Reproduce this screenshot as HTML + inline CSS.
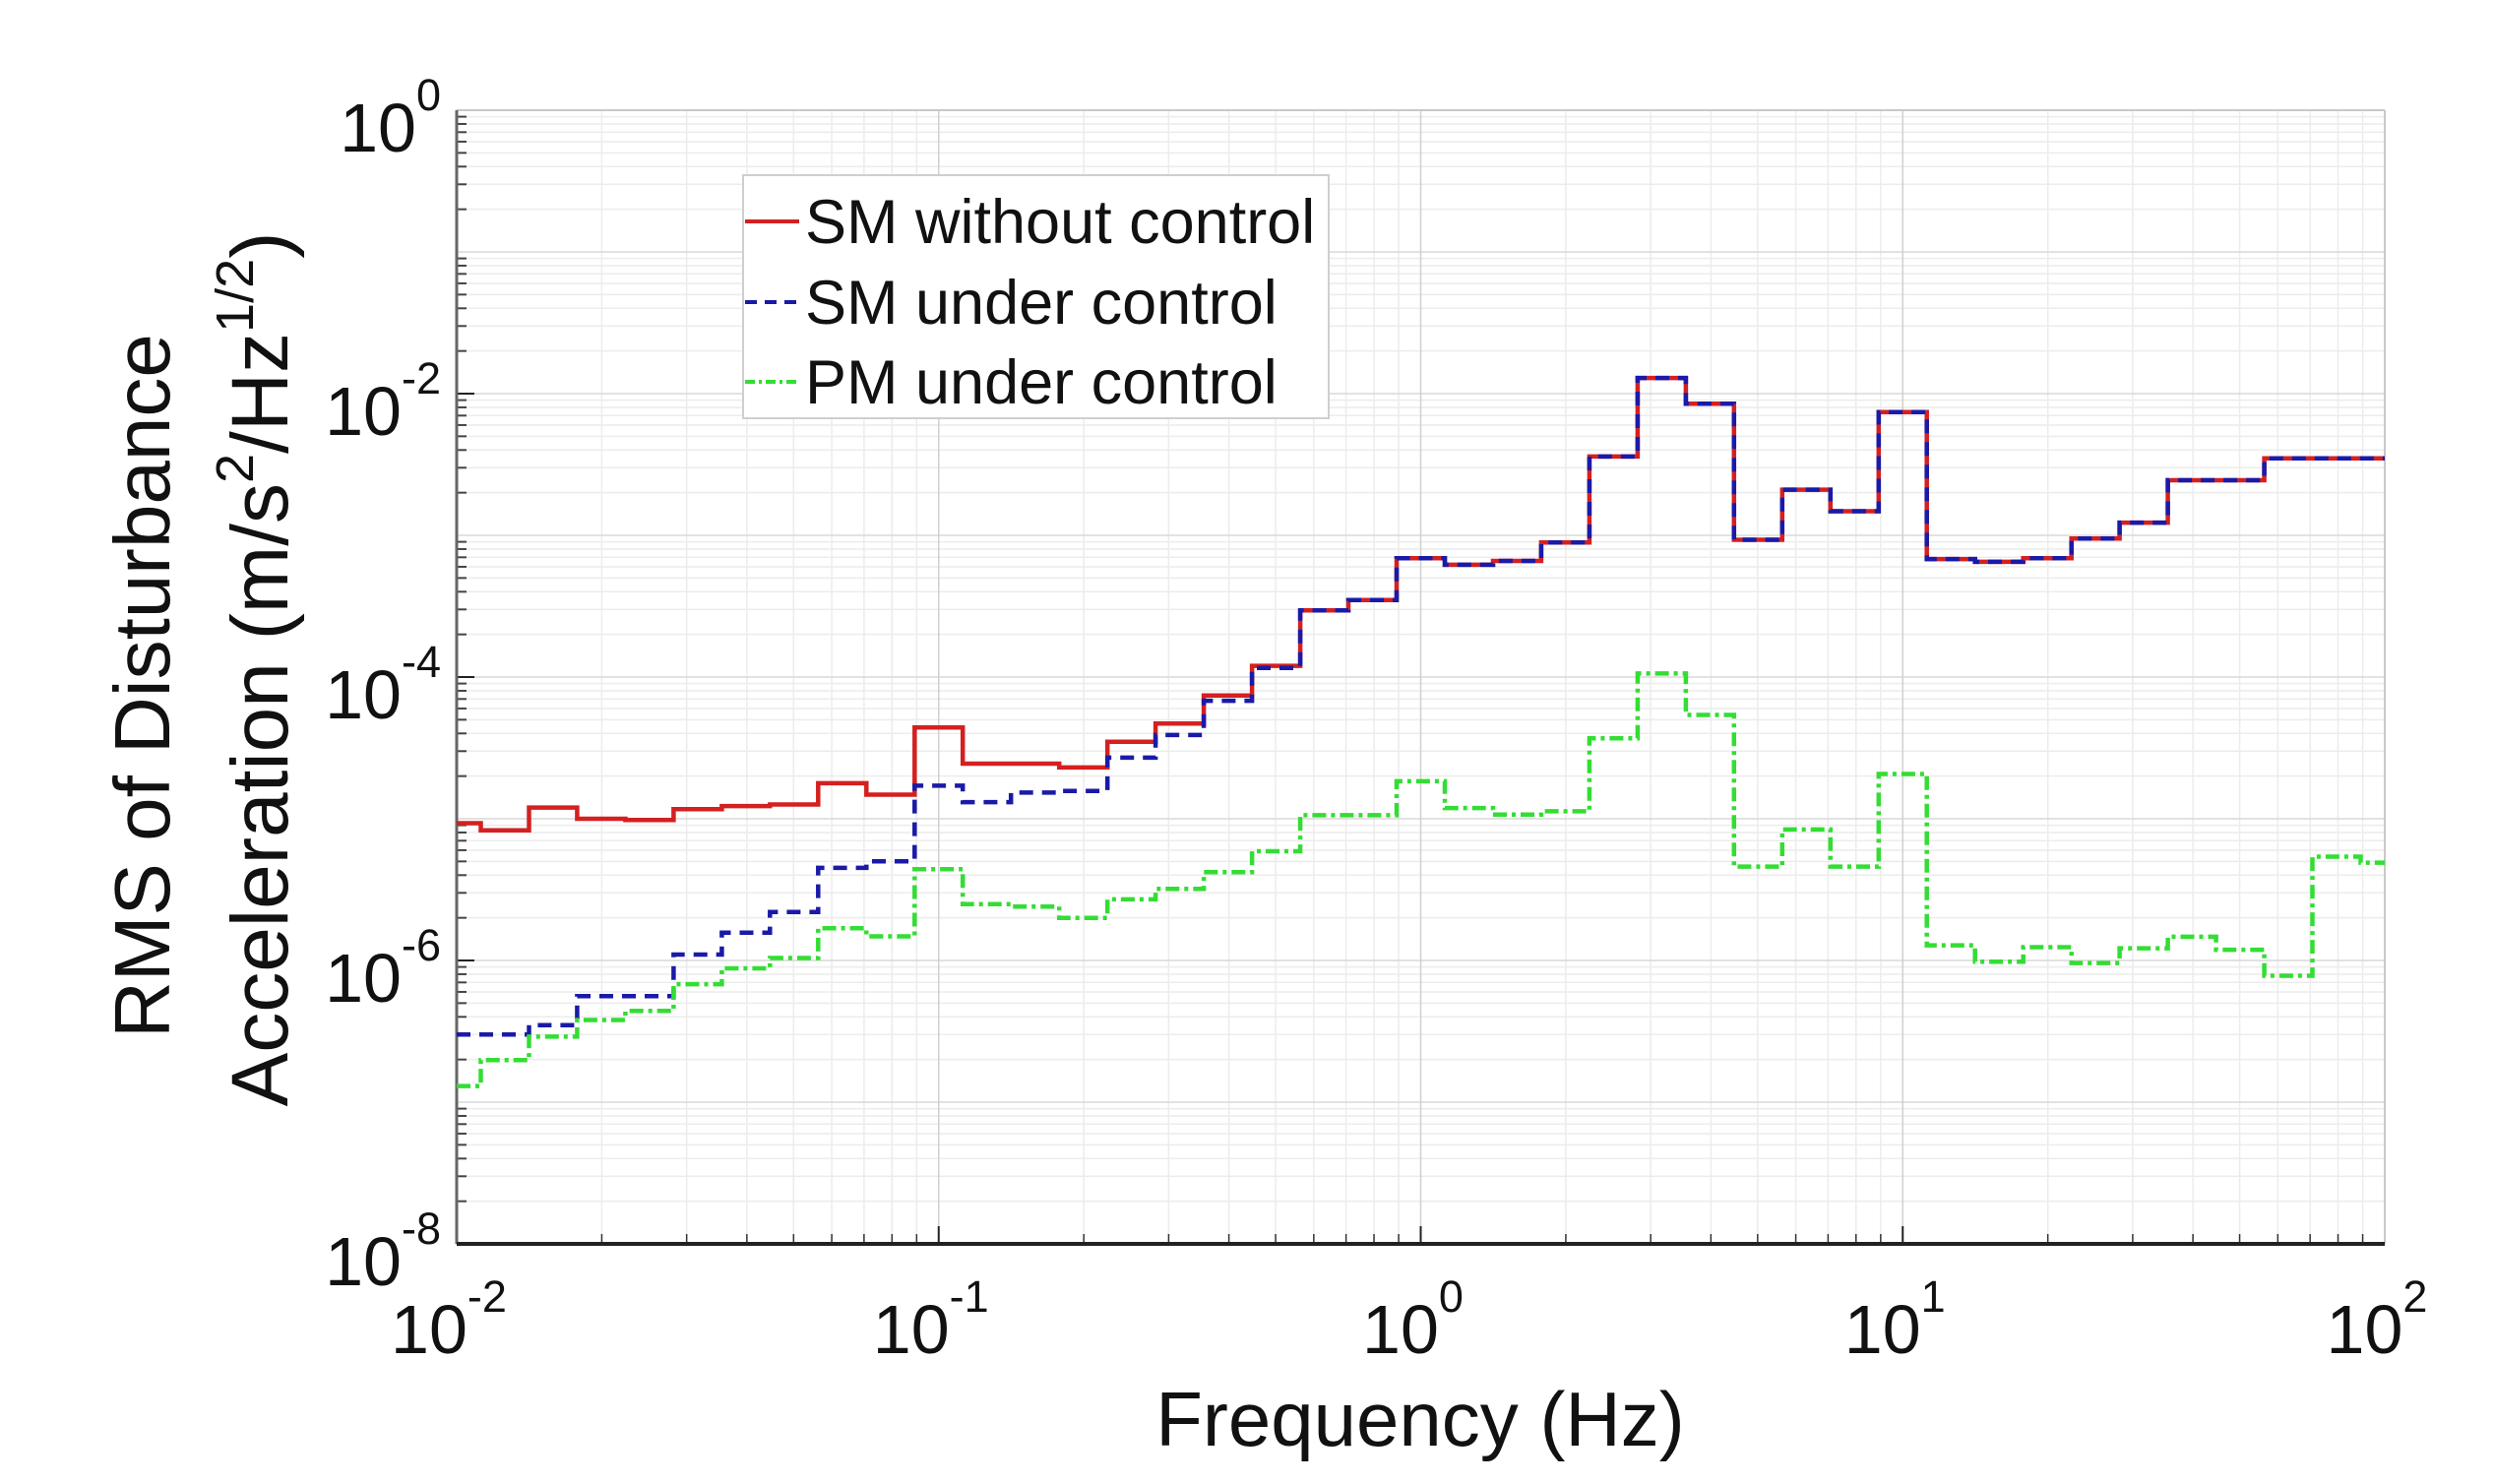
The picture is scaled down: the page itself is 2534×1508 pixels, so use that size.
<!DOCTYPE html>
<html><head><meta charset="utf-8"><style>
html,body{margin:0;padding:0;background:#fff;}
svg{display:block;font-family:"Liberation Sans",Arial,sans-serif;}
</style></head><body>
<svg id="chart" width="2534" height="1508" viewBox="0 0 2534 1508" xmlns="http://www.w3.org/2000/svg">
<rect x="0" y="0" width="2534" height="1508" fill="#fff"/>
<g id="grid"></g>
<g id="axes"></g>
<g id="series"></g>
<g id="labels"></g>
<text x="1443" y="1469" font-size="78" text-anchor="middle" fill="#111">Frequency (Hz)</text>
<text transform="translate(172,697) rotate(-90)" font-size="80" text-anchor="middle" fill="#111">RMS of Disturbance</text>
<text transform="translate(292,680) rotate(-90)" font-size="82" text-anchor="middle" fill="#111">Acceleration (m/s<tspan font-size="54" dy="-35">2</tspan><tspan dy="35">/Hz</tspan><tspan font-size="54" dy="-35">1/2</tspan><tspan dy="35">)</tspan></text>
<g>
<rect x="755" y="178" width="595" height="247" fill="#fff" stroke="#cfcfcf" stroke-width="2"/>
<g>
<line x1="757" y1="225" x2="812" y2="225" stroke="#d42020" stroke-width="4"/>
<text x="818" y="247" font-size="63" fill="#111">SM without control</text></g>
<g>
<line x1="757" y1="307" x2="812" y2="307" stroke="#1a1aa8" stroke-width="4" stroke-dasharray="12 8"/>
<text x="818" y="329" font-size="63" fill="#111">SM under control</text></g>
<g>
<line x1="757" y1="388" x2="812" y2="388" stroke="#33dd33" stroke-width="4" stroke-dasharray="10 4 3 4"/>
<text x="818" y="410" font-size="63" fill="#111">PM under control</text></g>
</g>
</svg>
<script>
const xDecades = [-2, -1, 0, 1, 2];
const yDecades = [0, -2, -4, -6, -8];
const xTickExp = ["-2", "-1", "0", "1", "2"];
const yTickExp = ["0", "-2", "-4", "-6", "-8"];
const bandCentersLog = [-2,-1.9,-1.8,-1.7,-1.6,-1.5,-1.4,-1.3,-1.2,-1.1,-1,-0.9,-0.8,-0.7,-0.6,-0.5,-0.4,-0.3,-0.2,-0.1,0,0.1,0.2,0.3,0.4,0.5,0.6,0.7,0.8,0.9,1,1.1,1.2,1.3,1.4,1.5,1.6,1.7,1.8,1.9,2];
const smWithout = [9.3e-6,8.3e-6,1.2e-5,1.0e-5,9.8e-6,1.17e-5,1.23e-5,1.26e-5,1.78e-5,1.48e-5,4.4e-5,2.45e-5,2.45e-5,2.3e-5,3.5e-5,4.7e-5,7.4e-5,1.2e-4,2.95e-4,3.5e-4,6.9e-4,6.2e-4,6.6e-4,8.9e-4,3.6e-3,1.29e-2,8.5e-3,9.3e-4,2.1e-3,1.48e-3,7.4e-3,6.8e-4,6.5e-4,6.9e-4,9.5e-4,1.23e-3,2.45e-3,2.45e-3,3.5e-3,3.5e-3,3.5e-3];
const smUnder = [3.0e-7,3.0e-7,3.5e-7,5.6e-7,5.6e-7,1.1e-6,1.57e-6,2.2e-6,4.5e-6,5.0e-6,1.71e-5,1.31e-5,1.53e-5,1.57e-5,2.7e-5,3.9e-5,6.8e-5,1.16e-4,2.95e-4,3.5e-4,6.9e-4,6.2e-4,6.6e-4,8.9e-4,3.6e-3,1.29e-2,8.5e-3,9.3e-4,2.1e-3,1.48e-3,7.4e-3,6.8e-4,6.5e-4,6.9e-4,9.5e-4,1.23e-3,2.45e-3,2.45e-3,3.5e-3,3.5e-3,3.5e-3];
const pmUnder = [1.3e-7,1.98e-7,2.9e-7,3.8e-7,4.4e-7,6.8e-7,8.8e-7,1.04e-6,1.69e-6,1.48e-6,4.4e-6,2.5e-6,2.4e-6,2.0e-6,2.7e-6,3.2e-6,4.2e-6,5.9e-6,1.06e-5,1.06e-5,1.84e-5,1.19e-5,1.07e-5,1.13e-5,3.7e-5,1.06e-4,5.4e-5,4.6e-6,8.4e-6,4.6e-6,2.07e-5,1.28e-6,9.8e-7,1.24e-6,9.6e-7,1.22e-6,1.47e-6,1.19e-6,7.8e-7,5.4e-6,4.9e-6];

const NS = "http://www.w3.org/2000/svg";
const L = 464, R = 2423, T = 112, B = 1264;
const X = lg => L + (lg + 2) / 4 * (R - L);
const Y = lg => T + (0 - lg) / 8 * (B - T);
function mk(tag, attrs, parent) { const e = document.createElementNS(NS, tag); for (const k in attrs) e.setAttribute(k, attrs[k]); parent.appendChild(e); return e; }
const grid = document.getElementById('grid'), axes = document.getElementById('axes'), series = document.getElementById('series'), labels = document.getElementById('labels');

for (let d = -2; d < 2; d++) for (let m = 2; m <= 9; m++) {
  const x = X(d + Math.log10(m));
  const g = mk('line', {x1: x, x2: x, y1: T, y2: B, stroke: '#ececec', 'stroke-width': 1.5}, grid);
  
  
  const t = mk('line', {x1: x, x2: x, y1: B, y2: B - 10, stroke: '#333', 'stroke-width': 1.5}, axes);
  
  
}
for (let d = -8; d < 0; d++) for (let m = 2; m <= 9; m++) {
  const y = Y(d + Math.log10(m));
  const g = mk('line', {x1: L, x2: R, y1: y, y2: y, stroke: '#ececec', 'stroke-width': 1.5}, grid);
  
  
  const t = mk('line', {x1: L, x2: L + 10, y1: y, y2: y, stroke: '#444', 'stroke-width': 2}, axes);
  
  
}
for (let d = -7; d < 0; d++) {
  const y = Y(d);
  const g = mk('line', {x1: L, x2: R, y1: y, y2: y, stroke: '#d8d8d8', 'stroke-width': 1.5}, grid);
  
  
}
xDecades.forEach((d, i) => {
  const x = X(d);
  const g = mk('line', {x1: x, x2: x, y1: T, y2: B, stroke: '#d0d0d0', 'stroke-width': 1.5}, grid);
  
  
  const t = mk('line', {x1: x, x2: x, y1: B, y2: B - 18, stroke: '#222', 'stroke-width': 2}, axes);
  
  
  const tx = mk('text', {x: x - 8, y: 1375, 'font-size': 70, 'text-anchor': 'middle', fill: '#111'}, labels);
  
  
  tx.appendChild(document.createTextNode('10'));
  const sp = mk('tspan', {'font-size': 45, dy: -42}, tx);
  sp.textContent = xTickExp[i];
});
yDecades.forEach((d, i) => {
  const y = Y(d);
  const t = mk('line', {x1: L, x2: L + 18, y1: y, y2: y, stroke: '#222', 'stroke-width': 2}, axes);
  
  
  const tx = mk('text', {x: 448, y: y + 42, 'font-size': 70, 'text-anchor': 'end', fill: '#111'}, labels);
  
  
  tx.appendChild(document.createTextNode('10'));
  const sp = mk('tspan', {'font-size': 45, dy: -42}, tx);
  sp.textContent = yTickExp[i];
});
const fr = [[L, T, R, T, '#c8c8c8', 2], [R, T, R, B, '#c8c8c8', 2], [L, T, L, B, '#666', 3], [L, B, R, B, '#222', 4]];
fr.forEach(f => {
  const a = mk('line', {x1: f[0], y1: f[1], x2: f[2], y2: f[3], stroke: f[4], 'stroke-width': f[5]}, axes);
  
  
});

function stepPath(vals) {
  let d = '';
  bandCentersLog.forEach((c, k) => {
    const lo = Math.max(-2, c - 0.05), hi = Math.min(2, c + 0.05);
    const y = Y(Math.log10(vals[k]));
    d += (k === 0 ? 'M' : 'L') + X(lo).toFixed(1) + ',' + y.toFixed(1) + 'L' + X(hi).toFixed(1) + ',' + y.toFixed(1);
  });
  return d;
}
const pr = mk('path', {d: stepPath(smWithout), fill: 'none', stroke: '#d42020', 'stroke-width': 4.5}, series);


const pb = mk('path', {d: stepPath(smUnder), fill: 'none', stroke: '#1a1aa8', 'stroke-width': 4.5, 'stroke-dasharray': '14 9'}, series);


const pg = mk('path', {d: stepPath(pmUnder), fill: 'none', stroke: '#33dd33', 'stroke-width': 4.5, 'stroke-dasharray': '14 5 4 5'}, series);


</script>
</body></html>
